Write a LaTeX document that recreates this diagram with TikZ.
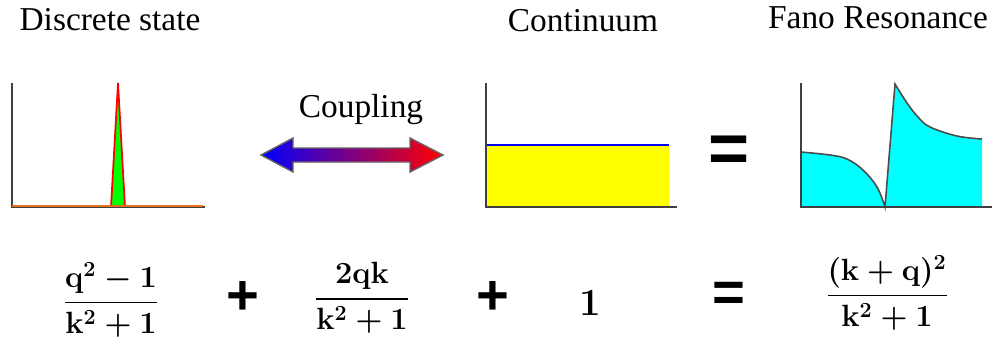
\RequirePackage{fix-cm}
\documentclass[tikz,border=0pt]{standalone}
\usepackage{amsmath}
\usepackage[no-math]{fontspec}
\newfontfamily\titlefont{Liberation Serif}
\setsansfont{Liberation Sans}
\definecolor{pgreen}{RGB}{0,255,0}
\definecolor{pyellow}{RGB}{255,255,0}
\definecolor{pcyan}{RGB}{0,255,255}
\definecolor{pblue}{RGB}{0,0,255}
\definecolor{pred}{RGB}{255,0,0}
\definecolor{porange}{RGB}{230,110,30}
\begin{document}
\begin{tikzpicture}[x=0.02cm,y=-0.02cm,
  title/.style={font=\titlefont\fontsize{19}{22}\selectfont, inner sep=0pt, anchor=base},
  axis/.style={line width=1.3pt, draw=black!75},
  eq/.style={font=\fontsize{17.5}{21}\selectfont\boldmath, inner sep=0pt},
  op/.style={font=\fontsize{32}{32}\selectfont\sffamily\bfseries, inner sep=0pt},
  bigop/.style={font=\fontsize{40}{40}\selectfont\sffamily\bfseries, inner sep=0pt},
  curve/.style={draw=black!70, line width=0.9pt}]
\useasboundingbox (0,0) rectangle (993,343);
% titles
\node[title] (t1) at (110,30) {Discrete state};
\node[title] (t2) at (583,31) {Continuum};
\node[title] (t3) at (878,28) {Fano Resonance};
\node[title] (cp) at (361,117) {Coupling};
% chart 1: discrete state
\fill[pgreen] (111,207) -- (118,83) -- (125,207) -- cycle;
\draw[pred, line width=1pt] (111,207) -- (118,83) -- (125,207);
\draw[axis] (12,83) -- (12,207) -- (205,207);
\draw[porange, line width=1pt] (12,206) -- (203,206);
% coupling arrow
\shade[left color=pblue, right color=pred, draw=black!60, line width=0.8pt]
  (261,155) -- (293,138) -- (293,148) -- (410,148) -- (410,138) -- (443,155)
  -- (410,172) -- (410,162) -- (293,162) -- (293,172) -- cycle;
% chart 2: continuum
\fill[pyellow] (486,145) rectangle (669,207);
\draw[pblue, line width=1.2pt] (486,145) -- (669,145);
\draw[axis] (486,83) -- (486,207) -- (677,207);
% big equals
\node[bigop] (eqtop) at (729,154) {=};
% chart 3: Fano resonance
\fill[pcyan] (801,207)
  -- plot[smooth, tension=0.6] coordinates {(801,152) (830,155) (847,159) (863,170) (877,187) (885,207)}
  -- plot[smooth, tension=0.6] coordinates {(895,84) (907,103) (918,117) (930,127) (957,136) (982,139)}
  -- (982,207) -- cycle;
\draw[curve] plot[smooth, tension=0.6] coordinates {(801,152) (830,155) (847,159) (863,170) (877,187) (885,207)}
  -- plot[smooth, tension=0.6] coordinates {(895,84) (907,103) (918,117) (930,127) (957,136) (982,139)};
\draw[axis] (801,83) -- (801,207) -- (992,207);
% equation
\node[eq] (f1) at (111,300) {$\dfrac{\mathbf{q}^2-1}{\mathbf{k}^2+1}$};
\node[op] (p1) at (243,298) {+};
\node[eq] (f2) at (362,298) {$\dfrac{2\mathbf{qk}}{\mathbf{k}^2+1}$};
\node[op] (p2) at (493,298) {+};
\node[eq, scale=1.25] (one) at (590,303) {$\mathbf{1}$};
\node[op] (eqb) at (729,297) {=};
\node[eq] (f3) at (887,293) {$\dfrac{(\mathbf{k}+\mathbf{q})^2}{\mathbf{k}^2+1}$};
\end{tikzpicture}
\end{document}
